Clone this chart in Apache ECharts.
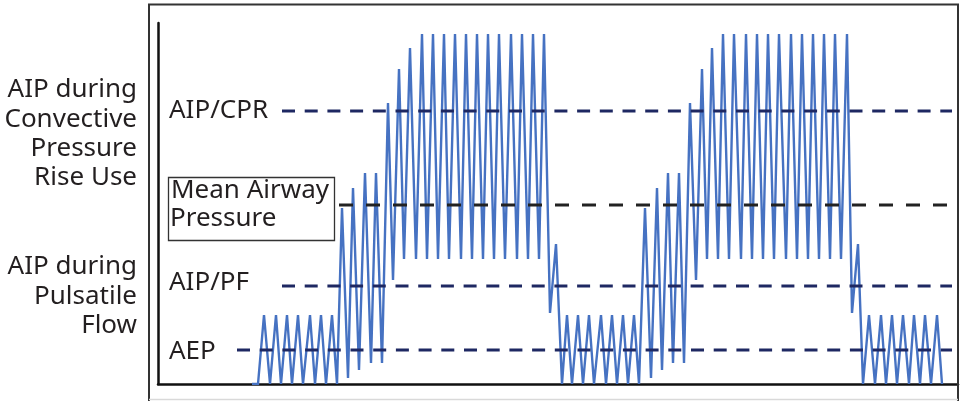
<!DOCTYPE html>
<html>
<head>
<meta charset="utf-8">
<script src="https://cdn.jsdelivr.net/npm/echarts@6/dist/echarts.min.js"></script>
<style>
  html, body { margin: 0; padding: 0; background: #fff; }
  #chart { width: 963px; height: 401px; }
</style>
</head>
<body>
<div id="chart"></div>
<script>
// waveform: time (arbitrary units) and pressure
const waveTimes = [
  94, 100,
  106, 112, 118, 123, 129, 134, 140, 145, 152, 157, 163, 168, 174, 179,
  184, 190, 195, 201, 207, 213, 218, 224, 230, 235, 241, 246, 252, 258, 264,
  269, 275, 280, 286, 291, 297, 303, 308, 314, 319, 325, 330, 336, 341, 347, 353, 359, 364, 370, 375, 381, 386,
  392, 398, 404,
  409, 414, 420, 425, 431, 436, 443, 448, 454, 459, 465, 470, 476, 481,
  487, 493, 499, 504, 510, 515, 521, 526, 532, 538, 544, 549, 554, 560, 565,
  571, 576, 583, 588, 594, 599, 605, 610, 616, 621, 628, 633, 639, 644, 650, 655, 661, 666, 672, 677, 683, 689,
  694, 700, 705,
  711, 717, 723, 728, 734, 739, 745, 751, 756, 762, 767, 773, 779, 784
]
const waveValues = [
  0, 0,
  69, 0, 69, 0, 69, 0, 69, 0, 69, 0, 69, 0, 69, 0,
  176, 6, 196, 14, 211, 21, 211, 21, 281, 104, 315, 125, 336, 125, 350,
  125, 350, 125, 350, 125, 350, 125, 350, 125, 350, 125, 350, 125, 350, 125, 350, 125, 350, 125, 350, 125, 350,
  71, 140, 0,
  69, 0, 69, 0, 69, 0, 69, 0, 69, 0, 69, 0, 69, 0,
  176, 6, 196, 14, 211, 21, 211, 21, 281, 104, 315, 125, 336, 125, 350,
  125, 350, 125, 350, 125, 350, 125, 350, 125, 350, 125, 350, 125, 350, 125, 350, 125, 350, 125, 350, 125, 350,
  71, 140, 0,
  69, 0, 69, 0, 69, 0, 69, 0, 69, 0, 69, 0, 69, 0
]

// reference pressure levels and where their dashed lines start / end
const levelNames = ['AIP/CPR', 'Mean Airway Pressure', 'AIP/PF', 'AEP']
const levelValues = [273, 179, 98, 34]
const levelStarts = [124, 181, 124, 79]
const levelEnd = 794

const leftLabelsTop = ['AIP during', 'Convective', 'Pressure', 'Rise Use']
const leftLabelsBottom = ['AIP during', 'Pulsatile', 'Flow']

const chart = echarts.init(document.getElementById('chart'))

const textColor = '#231f20'
const fontFamily = '"Noto Sans", "DejaVu Sans", sans-serif'

function txt(text, x, y, align) {
  return {
    type: 'text',
    x: x,
    y: y,
    z: 100,
    style: {
      text: text,
      fill: textColor,
      fontSize: 26,
      fontFamily: fontFamily,
      align: align || 'left',
      verticalAlign: 'middle'
    }
  }
}

const graphics = []
// outer frame
graphics.push({
  type: 'polyline',
  z: 90,
  shape: { points: [[149, 401], [149, 4.5], [958, 4.5], [958, 401]] },
  style: { stroke: '#333', lineWidth: 2, fill: null }
})
graphics.push({
  type: 'line',
  z: 90,
  shape: { x1: 149, y1: 399.5, x2: 958, y2: 399.5 },
  style: { stroke: '#d9d9d9', lineWidth: 1.5 }
})
leftLabelsTop.forEach((s, i) => graphics.push(txt(s, 137, 90 + i * 29.3, 'right')))
leftLabelsBottom.forEach((s, i) => graphics.push(txt(s, 137, 267 + i * 29.3, 'right')))
graphics.push(txt('AIP/CPR', 169, 111))
graphics.push(txt('AIP/PF', 169, 283))
graphics.push(txt('AEP', 169, 352))
// boxed label
graphics.push({
  type: 'rect',
  z: 95,
  shape: { x: 168.5, y: 177.5, width: 166, height: 63 },
  style: { stroke: '#333', lineWidth: 1.3, fill: '#fff' }
})
graphics.push(txt('Mean Airway', 171, 191))
graphics.push(txt('Pressure', 170, 219))

const dashColors = ['#1e2862', '#222222', '#1e2862', '#1e2862']
const dashTypes = [[13, 9.7], [14, 13], [13, 9.7], [13, 9.7]]

const series = [
  {
    type: 'line',
    name: 'Airway pressure',
    data: waveTimes.map((t, i) => [t, waveValues[i]]),
    showSymbol: false,
    z: 2,
    lineStyle: { color: '#4672c2', width: 2.4, join: 'miter' }
  }
]
levelNames.forEach((name, i) => {
  series.push({
    type: 'line',
    name: name,
    data: [[levelStarts[i], levelValues[i]], [levelEnd, levelValues[i]]],
    showSymbol: false,
    z: 5,
    lineStyle: { color: dashColors[i], width: 3, type: dashTypes[i] }
  })
})

const option = {
  animation: false,
  backgroundColor: '#fff',
  grid: { left: 158, right: 5, top: 23, bottom: 17 },
  xAxis: {
    type: 'value',
    min: 0,
    max: 800,
    axisLine: { show: true, onZero: false, lineStyle: { color: '#111', width: 2.5 } },
    axisTick: { show: false },
    axisLabel: { show: false },
    splitLine: { show: false }
  },
  yAxis: {
    type: 'value',
    min: 0,
    max: 361,
    axisLine: { show: true, onZero: false, lineStyle: { color: '#111', width: 2.5 } },
    axisTick: { show: false },
    axisLabel: { show: false },
    splitLine: { show: false }
  },
  graphic: graphics,
  series: series
}

option && chart.setOption(option)
</script>
</body>
</html>
